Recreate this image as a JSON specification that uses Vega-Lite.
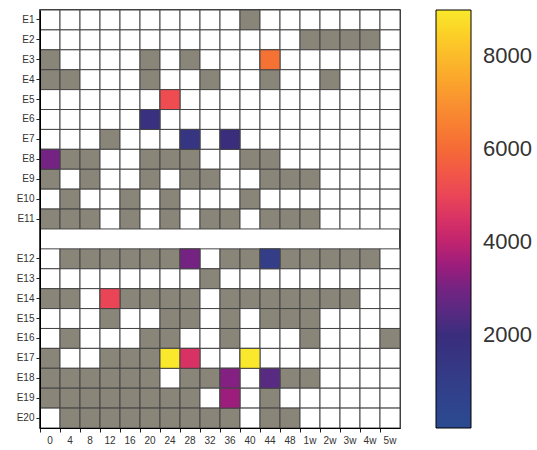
{
"$schema": "https://vega.github.io/schema/vega-lite/v6.json",
"width": 360, "height": 418,
"autosize": {"type": "none"},
"padding": {"left": 40, "top": 10, "right": 137, "bottom": 22},
"background": "white",
"config": {"view": {"stroke": "black", "strokeWidth": 1.5}, "font": "Liberation Sans"},
"data": {"values": [
{"r":"E1","c":"0","k":"w"},{"r":"E1","c":"4","k":"w"},{"r":"E1","c":"8","k":"w"},{"r":"E1","c":"12","k":"w"},{"r":"E1","c":"16","k":"w"},{"r":"E1","c":"20","k":"w"},{"r":"E1","c":"24","k":"w"},{"r":"E1","c":"28","k":"w"},{"r":"E1","c":"32","k":"w"},{"r":"E1","c":"36","k":"w"},{"r":"E1","c":"40","k":"g"},{"r":"E1","c":"44","k":"w"},{"r":"E1","c":"48","k":"w"},{"r":"E1","c":"1w","k":"w"},{"r":"E1","c":"2w","k":"w"},{"r":"E1","c":"3w","k":"w"},{"r":"E1","c":"4w","k":"w"},{"r":"E1","c":"5w","k":"w"},
{"r":"E2","c":"0","k":"w"},{"r":"E2","c":"4","k":"w"},{"r":"E2","c":"8","k":"w"},{"r":"E2","c":"12","k":"w"},{"r":"E2","c":"16","k":"w"},{"r":"E2","c":"20","k":"w"},{"r":"E2","c":"24","k":"w"},{"r":"E2","c":"28","k":"w"},{"r":"E2","c":"32","k":"w"},{"r":"E2","c":"36","k":"w"},{"r":"E2","c":"40","k":"w"},{"r":"E2","c":"44","k":"w"},{"r":"E2","c":"48","k":"w"},{"r":"E2","c":"1w","k":"g"},{"r":"E2","c":"2w","k":"g"},{"r":"E2","c":"3w","k":"g"},{"r":"E2","c":"4w","k":"g"},{"r":"E2","c":"5w","k":"w"},
{"r":"E3","c":"0","k":"g"},{"r":"E3","c":"4","k":"w"},{"r":"E3","c":"8","k":"w"},{"r":"E3","c":"12","k":"w"},{"r":"E3","c":"16","k":"w"},{"r":"E3","c":"20","k":"g"},{"r":"E3","c":"24","k":"w"},{"r":"E3","c":"28","k":"g"},{"r":"E3","c":"32","k":"w"},{"r":"E3","c":"36","k":"w"},{"r":"E3","c":"40","k":"w"},{"r":"E3","c":"44","k":"c","v":6200},{"r":"E3","c":"48","k":"w"},{"r":"E3","c":"1w","k":"w"},{"r":"E3","c":"2w","k":"w"},{"r":"E3","c":"3w","k":"w"},{"r":"E3","c":"4w","k":"w"},{"r":"E3","c":"5w","k":"w"},
{"r":"E4","c":"0","k":"g"},{"r":"E4","c":"4","k":"g"},{"r":"E4","c":"8","k":"w"},{"r":"E4","c":"12","k":"w"},{"r":"E4","c":"16","k":"w"},{"r":"E4","c":"20","k":"g"},{"r":"E4","c":"24","k":"w"},{"r":"E4","c":"28","k":"w"},{"r":"E4","c":"32","k":"g"},{"r":"E4","c":"36","k":"w"},{"r":"E4","c":"40","k":"w"},{"r":"E4","c":"44","k":"g"},{"r":"E4","c":"48","k":"w"},{"r":"E4","c":"1w","k":"w"},{"r":"E4","c":"2w","k":"g"},{"r":"E4","c":"3w","k":"w"},{"r":"E4","c":"4w","k":"w"},{"r":"E4","c":"5w","k":"w"},
{"r":"E5","c":"0","k":"w"},{"r":"E5","c":"4","k":"w"},{"r":"E5","c":"8","k":"w"},{"r":"E5","c":"12","k":"w"},{"r":"E5","c":"16","k":"w"},{"r":"E5","c":"20","k":"w"},{"r":"E5","c":"24","k":"c","v":5200},{"r":"E5","c":"28","k":"w"},{"r":"E5","c":"32","k":"w"},{"r":"E5","c":"36","k":"w"},{"r":"E5","c":"40","k":"w"},{"r":"E5","c":"44","k":"w"},{"r":"E5","c":"48","k":"w"},{"r":"E5","c":"1w","k":"w"},{"r":"E5","c":"2w","k":"w"},{"r":"E5","c":"3w","k":"w"},{"r":"E5","c":"4w","k":"w"},{"r":"E5","c":"5w","k":"w"},
{"r":"E6","c":"0","k":"w"},{"r":"E6","c":"4","k":"w"},{"r":"E6","c":"8","k":"w"},{"r":"E6","c":"12","k":"w"},{"r":"E6","c":"16","k":"w"},{"r":"E6","c":"20","k":"c","v":1800},{"r":"E6","c":"24","k":"w"},{"r":"E6","c":"28","k":"w"},{"r":"E6","c":"32","k":"w"},{"r":"E6","c":"36","k":"w"},{"r":"E6","c":"40","k":"w"},{"r":"E6","c":"44","k":"w"},{"r":"E6","c":"48","k":"w"},{"r":"E6","c":"1w","k":"w"},{"r":"E6","c":"2w","k":"w"},{"r":"E6","c":"3w","k":"w"},{"r":"E6","c":"4w","k":"w"},{"r":"E6","c":"5w","k":"w"},
{"r":"E7","c":"0","k":"w"},{"r":"E7","c":"4","k":"w"},{"r":"E7","c":"8","k":"w"},{"r":"E7","c":"12","k":"g"},{"r":"E7","c":"16","k":"w"},{"r":"E7","c":"20","k":"w"},{"r":"E7","c":"24","k":"w"},{"r":"E7","c":"28","k":"c","v":1500},{"r":"E7","c":"32","k":"w"},{"r":"E7","c":"36","k":"c","v":2000},{"r":"E7","c":"40","k":"w"},{"r":"E7","c":"44","k":"w"},{"r":"E7","c":"48","k":"w"},{"r":"E7","c":"1w","k":"w"},{"r":"E7","c":"2w","k":"w"},{"r":"E7","c":"3w","k":"w"},{"r":"E7","c":"4w","k":"w"},{"r":"E7","c":"5w","k":"w"},
{"r":"E8","c":"0","k":"c","v":3000},{"r":"E8","c":"4","k":"g"},{"r":"E8","c":"8","k":"g"},{"r":"E8","c":"12","k":"w"},{"r":"E8","c":"16","k":"w"},{"r":"E8","c":"20","k":"g"},{"r":"E8","c":"24","k":"g"},{"r":"E8","c":"28","k":"g"},{"r":"E8","c":"32","k":"w"},{"r":"E8","c":"36","k":"w"},{"r":"E8","c":"40","k":"g"},{"r":"E8","c":"44","k":"g"},{"r":"E8","c":"48","k":"w"},{"r":"E8","c":"1w","k":"w"},{"r":"E8","c":"2w","k":"w"},{"r":"E8","c":"3w","k":"w"},{"r":"E8","c":"4w","k":"w"},{"r":"E8","c":"5w","k":"w"},
{"r":"E9","c":"0","k":"g"},{"r":"E9","c":"4","k":"w"},{"r":"E9","c":"8","k":"g"},{"r":"E9","c":"12","k":"w"},{"r":"E9","c":"16","k":"w"},{"r":"E9","c":"20","k":"g"},{"r":"E9","c":"24","k":"w"},{"r":"E9","c":"28","k":"g"},{"r":"E9","c":"32","k":"g"},{"r":"E9","c":"36","k":"w"},{"r":"E9","c":"40","k":"w"},{"r":"E9","c":"44","k":"g"},{"r":"E9","c":"48","k":"g"},{"r":"E9","c":"1w","k":"g"},{"r":"E9","c":"2w","k":"w"},{"r":"E9","c":"3w","k":"w"},{"r":"E9","c":"4w","k":"w"},{"r":"E9","c":"5w","k":"w"},
{"r":"E10","c":"0","k":"w"},{"r":"E10","c":"4","k":"g"},{"r":"E10","c":"8","k":"w"},{"r":"E10","c":"12","k":"w"},{"r":"E10","c":"16","k":"g"},{"r":"E10","c":"20","k":"w"},{"r":"E10","c":"24","k":"g"},{"r":"E10","c":"28","k":"w"},{"r":"E10","c":"32","k":"w"},{"r":"E10","c":"36","k":"w"},{"r":"E10","c":"40","k":"g"},{"r":"E10","c":"44","k":"w"},{"r":"E10","c":"48","k":"w"},{"r":"E10","c":"1w","k":"w"},{"r":"E10","c":"2w","k":"w"},{"r":"E10","c":"3w","k":"w"},{"r":"E10","c":"4w","k":"w"},{"r":"E10","c":"5w","k":"w"},
{"r":"E11","c":"0","k":"g"},{"r":"E11","c":"4","k":"g"},{"r":"E11","c":"8","k":"g"},{"r":"E11","c":"12","k":"w"},{"r":"E11","c":"16","k":"g"},{"r":"E11","c":"20","k":"w"},{"r":"E11","c":"24","k":"g"},{"r":"E11","c":"28","k":"w"},{"r":"E11","c":"32","k":"g"},{"r":"E11","c":"36","k":"g"},{"r":"E11","c":"40","k":"w"},{"r":"E11","c":"44","k":"g"},{"r":"E11","c":"48","k":"g"},{"r":"E11","c":"1w","k":"g"},{"r":"E11","c":"2w","k":"w"},{"r":"E11","c":"3w","k":"w"},{"r":"E11","c":"4w","k":"w"},{"r":"E11","c":"5w","k":"w"},
{"r":"E12","c":"0","k":"w"},{"r":"E12","c":"4","k":"g"},{"r":"E12","c":"8","k":"g"},{"r":"E12","c":"12","k":"g"},{"r":"E12","c":"16","k":"g"},{"r":"E12","c":"20","k":"g"},{"r":"E12","c":"24","k":"g"},{"r":"E12","c":"28","k":"c","v":3000},{"r":"E12","c":"32","k":"w"},{"r":"E12","c":"36","k":"g"},{"r":"E12","c":"40","k":"g"},{"r":"E12","c":"44","k":"c","v":1000},{"r":"E12","c":"48","k":"g"},{"r":"E12","c":"1w","k":"g"},{"r":"E12","c":"2w","k":"g"},{"r":"E12","c":"3w","k":"g"},{"r":"E12","c":"4w","k":"g"},{"r":"E12","c":"5w","k":"w"},
{"r":"E13","c":"0","k":"w"},{"r":"E13","c":"4","k":"w"},{"r":"E13","c":"8","k":"w"},{"r":"E13","c":"12","k":"w"},{"r":"E13","c":"16","k":"w"},{"r":"E13","c":"20","k":"w"},{"r":"E13","c":"24","k":"w"},{"r":"E13","c":"28","k":"w"},{"r":"E13","c":"32","k":"g"},{"r":"E13","c":"36","k":"w"},{"r":"E13","c":"40","k":"w"},{"r":"E13","c":"44","k":"w"},{"r":"E13","c":"48","k":"w"},{"r":"E13","c":"1w","k":"w"},{"r":"E13","c":"2w","k":"w"},{"r":"E13","c":"3w","k":"w"},{"r":"E13","c":"4w","k":"w"},{"r":"E13","c":"5w","k":"w"},
{"r":"E14","c":"0","k":"g"},{"r":"E14","c":"4","k":"g"},{"r":"E14","c":"8","k":"w"},{"r":"E14","c":"12","k":"c","v":5000},{"r":"E14","c":"16","k":"g"},{"r":"E14","c":"20","k":"g"},{"r":"E14","c":"24","k":"g"},{"r":"E14","c":"28","k":"g"},{"r":"E14","c":"32","k":"w"},{"r":"E14","c":"36","k":"g"},{"r":"E14","c":"40","k":"g"},{"r":"E14","c":"44","k":"g"},{"r":"E14","c":"48","k":"g"},{"r":"E14","c":"1w","k":"g"},{"r":"E14","c":"2w","k":"g"},{"r":"E14","c":"3w","k":"g"},{"r":"E14","c":"4w","k":"w"},{"r":"E14","c":"5w","k":"w"},
{"r":"E15","c":"0","k":"w"},{"r":"E15","c":"4","k":"w"},{"r":"E15","c":"8","k":"w"},{"r":"E15","c":"12","k":"g"},{"r":"E15","c":"16","k":"w"},{"r":"E15","c":"20","k":"w"},{"r":"E15","c":"24","k":"g"},{"r":"E15","c":"28","k":"g"},{"r":"E15","c":"32","k":"w"},{"r":"E15","c":"36","k":"g"},{"r":"E15","c":"40","k":"w"},{"r":"E15","c":"44","k":"g"},{"r":"E15","c":"48","k":"g"},{"r":"E15","c":"1w","k":"g"},{"r":"E15","c":"2w","k":"w"},{"r":"E15","c":"3w","k":"w"},{"r":"E15","c":"4w","k":"w"},{"r":"E15","c":"5w","k":"w"},
{"r":"E16","c":"0","k":"w"},{"r":"E16","c":"4","k":"g"},{"r":"E16","c":"8","k":"w"},{"r":"E16","c":"12","k":"w"},{"r":"E16","c":"16","k":"w"},{"r":"E16","c":"20","k":"g"},{"r":"E16","c":"24","k":"g"},{"r":"E16","c":"28","k":"w"},{"r":"E16","c":"32","k":"w"},{"r":"E16","c":"36","k":"g"},{"r":"E16","c":"40","k":"w"},{"r":"E16","c":"44","k":"w"},{"r":"E16","c":"48","k":"w"},{"r":"E16","c":"1w","k":"g"},{"r":"E16","c":"2w","k":"w"},{"r":"E16","c":"3w","k":"w"},{"r":"E16","c":"4w","k":"w"},{"r":"E16","c":"5w","k":"g"},
{"r":"E17","c":"0","k":"g"},{"r":"E17","c":"4","k":"w"},{"r":"E17","c":"8","k":"w"},{"r":"E17","c":"12","k":"g"},{"r":"E17","c":"16","k":"g"},{"r":"E17","c":"20","k":"g"},{"r":"E17","c":"24","k":"c","v":9000},{"r":"E17","c":"28","k":"c","v":4500},{"r":"E17","c":"32","k":"w"},{"r":"E17","c":"36","k":"w"},{"r":"E17","c":"40","k":"c","v":9000},{"r":"E17","c":"44","k":"w"},{"r":"E17","c":"48","k":"w"},{"r":"E17","c":"1w","k":"w"},{"r":"E17","c":"2w","k":"w"},{"r":"E17","c":"3w","k":"w"},{"r":"E17","c":"4w","k":"w"},{"r":"E17","c":"5w","k":"w"},
{"r":"E18","c":"0","k":"g"},{"r":"E18","c":"4","k":"g"},{"r":"E18","c":"8","k":"g"},{"r":"E18","c":"12","k":"g"},{"r":"E18","c":"16","k":"g"},{"r":"E18","c":"20","k":"g"},{"r":"E18","c":"24","k":"w"},{"r":"E18","c":"28","k":"g"},{"r":"E18","c":"32","k":"g"},{"r":"E18","c":"36","k":"c","v":3200},{"r":"E18","c":"40","k":"w"},{"r":"E18","c":"44","k":"c","v":2500},{"r":"E18","c":"48","k":"g"},{"r":"E18","c":"1w","k":"g"},{"r":"E18","c":"2w","k":"w"},{"r":"E18","c":"3w","k":"w"},{"r":"E18","c":"4w","k":"w"},{"r":"E18","c":"5w","k":"w"},
{"r":"E19","c":"0","k":"g"},{"r":"E19","c":"4","k":"g"},{"r":"E19","c":"8","k":"g"},{"r":"E19","c":"12","k":"g"},{"r":"E19","c":"16","k":"g"},{"r":"E19","c":"20","k":"g"},{"r":"E19","c":"24","k":"g"},{"r":"E19","c":"28","k":"g"},{"r":"E19","c":"32","k":"w"},{"r":"E19","c":"36","k":"c","v":3500},{"r":"E19","c":"40","k":"w"},{"r":"E19","c":"44","k":"g"},{"r":"E19","c":"48","k":"w"},{"r":"E19","c":"1w","k":"w"},{"r":"E19","c":"2w","k":"w"},{"r":"E19","c":"3w","k":"w"},{"r":"E19","c":"4w","k":"w"},{"r":"E19","c":"5w","k":"w"},
{"r":"E20","c":"0","k":"w"},{"r":"E20","c":"4","k":"g"},{"r":"E20","c":"8","k":"g"},{"r":"E20","c":"12","k":"g"},{"r":"E20","c":"16","k":"g"},{"r":"E20","c":"20","k":"g"},{"r":"E20","c":"24","k":"g"},{"r":"E20","c":"28","k":"g"},{"r":"E20","c":"32","k":"g"},{"r":"E20","c":"36","k":"g"},{"r":"E20","c":"40","k":"w"},{"r":"E20","c":"44","k":"g"},{"r":"E20","c":"48","k":"g"},{"r":"E20","c":"1w","k":"w"},{"r":"E20","c":"2w","k":"w"},{"r":"E20","c":"3w","k":"w"},{"r":"E20","c":"4w","k":"w"},{"r":"E20","c":"5w","k":"w"}
]},
"encoding": {
  "x": {"field": "c", "type": "ordinal",
    "scale": {"domain": ["0","4","8","12","16","20","24","28","32","36","40","44","48","1w","2w","3w","4w","5w"], "paddingInner": 0, "paddingOuter": 0},
    "axis": {"title": null, "labelAngle": 0, "bandPosition": 0, "labelFontSize": 10, "labelColor": "#333", "tickColor": "#222", "domainColor": "black", "tickSize": 4, "labelPadding": 3}},
  "y": {"field": "r", "type": "ordinal",
    "scale": {"domain": ["E1","E2","E3","E4","E5","E6","E7","E8","E9","E10","E11","gap","E12","E13","E14","E15","E16","E17","E18","E19","E20"], "paddingInner": 0, "paddingOuter": 0},
    "axis": {"title": null, "values": ["E1","E2","E3","E4","E5","E6","E7","E8","E9","E10","E11","E12","E13","E14","E15","E16","E17","E18","E19","E20"], "labelFontSize": 10, "labelColor": "#333", "tickColor": "#222", "domainColor": "black", "tickSize": 4, "labelPadding": 2}}
},
"layer": [
  {"mark": {"type": "rect", "stroke": "#444", "strokeWidth": 1},
   "encoding": {"fill": {"field": "k", "type": "nominal", "scale": {"domain": ["w","g","c"], "range": ["#ffffff","#898579","#ffffff"]}, "legend": null}}},
  {"transform": [{"filter": "datum.k == 'c'"}],
   "mark": {"type": "rect", "stroke": "#444", "strokeWidth": 1},
   "encoding": {"color": {"field": "v", "type": "quantitative",
     "scale": {"domain": [0,2000,3100,4000,4900,6000,7100,8000,9000], "range": ["#2b4b91","#3a2d7c","#7a2182","#c0246f","#e8425a","#f56a36","#f99530","#fbbb2a","#f9e82b"]},
     "legend": {"orient": "none", "legendX": 396, "legendY": 0, "direction": "vertical", "gradientLength": 418, "gradientThickness": 35, "gradientStrokeColor": "black", "gradientStrokeWidth": 1, "values": [2000,4000,6000,8000], "format": "d", "labelFontSize": 22, "labelOffset": 12, "labelColor": "#333", "title": null}}}}
]
}
